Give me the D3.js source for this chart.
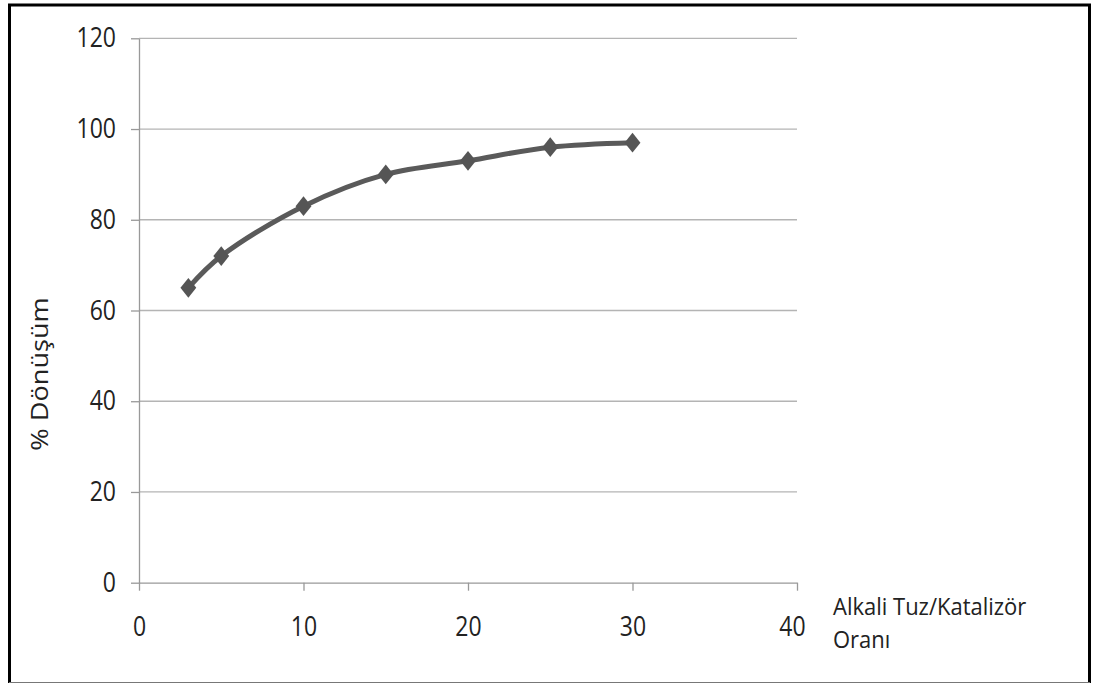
<!DOCTYPE html>
<html>
<head>
<meta charset="utf-8">
<script src="https://cdn.jsdelivr.net/npm/d3@7"></script>
<style>
  html, body { margin: 0; padding: 0; background: #fff; }
  svg { display: block; }
  text { font-family: "Open Sans", "Noto Sans", sans-serif; fill: #222; }
</style>
</head>
<body>
<svg id="chart" width="1093" height="684"></svg>
<script>
// Alkali salt / catalyst ratio vs. % conversion
const ratio = [3, 5, 10, 15, 20, 25, 30];
const conversion = [65, 72, 83, 90, 93, 96, 97];
const xTicks = [0, 10, 20, 30, 40];
const yTicks = [0, 20, 40, 60, 80, 100, 120];
const yTitle = "% Dönüşüm";
const xTitleLines = ["Alkali Tuz/Katalizör", "Oranı"];

const svg = d3.select("#chart");
const W = 1093, H = 684;
const stretch = 1.18; // glyphs are drawn slightly taller than wide

// outer frame
svg.append("rect").attr("x", 0).attr("y", 0).attr("width", W).attr("height", H).attr("fill", "#fff");
svg.append("path")
  .attr("d", `M9.5,683 V5 H1089.5 V683`)
  .attr("fill", "none").attr("stroke", "#000").attr("stroke-width", 3);
svg.append("line").attr("x1", 9).attr("x2", 1090).attr("y1", 682.5).attr("y2", 682.5)
  .attr("stroke", "#777").attr("stroke-width", 1);

const plotL = 139, plotR = 797, plotT = 38.3, plotB = 582.7;
const x = d3.scaleLinear().domain([0, 40]).range([plotL, plotR]);
const y = d3.scaleLinear().domain([0, 120]).range([plotB, plotT]);

// horizontal gridlines
svg.append("g").selectAll("line").data(yTicks.filter(d => d > 0)).join("line")
  .attr("x1", plotL).attr("x2", plotR)
  .attr("y1", d => y(d)).attr("y2", d => y(d))
  .attr("stroke", "#b4b4b4").attr("stroke-width", 1.3);

// y axis
const yAxis = svg.append("g").attr("transform", `translate(${plotL},0)`)
  .call(d3.axisLeft(y).tickValues(yTicks).tickSize(8).tickPadding(15).tickSizeOuter(0));
yAxis.select(".domain").attr("stroke", "#999").attr("stroke-width", 1.3);
yAxis.selectAll(".tick line").attr("stroke", "#999").attr("stroke-width", 1.3);
yAxis.selectAll(".tick text")
  .attr("font-size", 23).attr("font-family", "Open Sans").attr("fill", "#222")
  .attr("transform", `scale(1,${stretch})`);

// x axis
const xAxis = svg.append("g").attr("transform", `translate(0,${plotB})`)
  .call(d3.axisBottom(x).tickValues(xTicks).tickSize(8).tickPadding(21).tickSizeOuter(0));
xAxis.select(".domain").attr("stroke", "#999").attr("stroke-width", 1.3);
xAxis.selectAll(".tick line").attr("stroke", "#999").attr("stroke-width", 1.3);
xAxis.selectAll(".tick text")
  .attr("font-size", 23).attr("font-family", "Open Sans").attr("fill", "#222")
  .attr("transform", `scale(1,${stretch})`);
// label at x=40 sits slightly left of its tick
xAxis.selectAll(".tick text").filter(d => d === 40).attr("dx", -5);

// axis titles
svg.append("text")
  .attr("transform", `translate(48,374) scale(1,${stretch}) rotate(-90)`)
  .attr("text-anchor", "middle")
  .attr("font-size", 23)
  .text(yTitle);

const xt = svg.append("text")
  .attr("transform", `translate(833,615) scale(1,1.1)`)
  .attr("font-size", 22);
xTitleLines.forEach((t, i) => {
  xt.append("tspan").attr("x", 0).attr("dy", i === 0 ? 0 : 30).text(t);
});

// series
const pts = ratio.map((r, i) => [r, conversion[i]]);
const line = d3.line().x(d => x(d[0])).y(d => y(d[1])).curve(d3.curveCatmullRom.alpha(0.5));
svg.append("path").datum(pts)
  .attr("d", line)
  .attr("fill", "none").attr("stroke", "#5a5a5a").attr("stroke-width", 5)
  .attr("stroke-linejoin", "round");

const diamond = d3.symbol().type(d3.symbolDiamond2).size(160);
svg.append("g").selectAll("path").data(pts).join("path")
  .attr("transform", d => `translate(${x(d[0])},${y(d[1])}) scale(1,1.25)`)
  .attr("d", diamond)
  .attr("fill", "#555");
</script>
</body>
</html>
